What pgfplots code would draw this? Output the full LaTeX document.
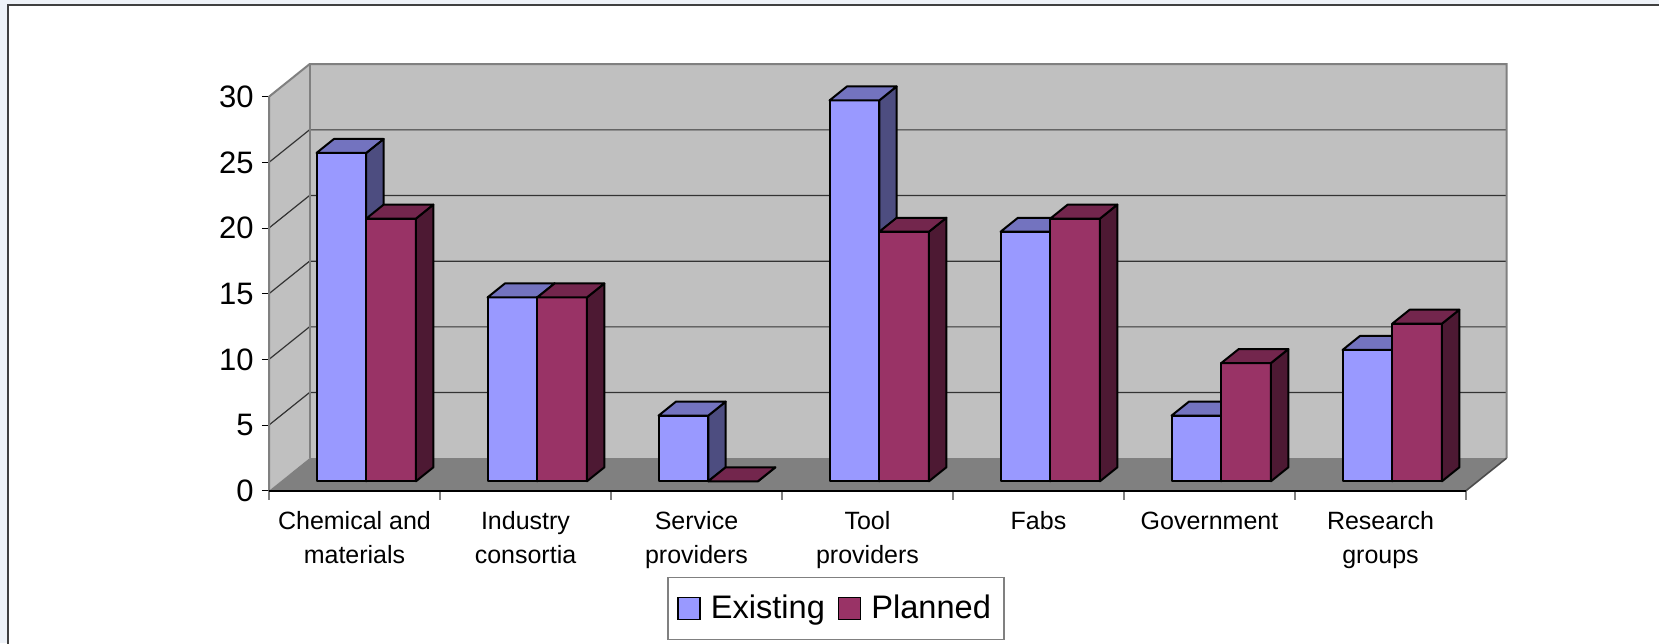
\documentclass[border=0pt]{standalone}
\usepackage{fontspec}
\setmainfont{Liberation Sans}
\usepackage{pgfplots}
\pgfplotsset{compat=1.18}
\definecolor{exFront}{HTML}{9999FF}
\definecolor{exTop}{HTML}{7373BF}
\definecolor{exSide}{HTML}{4D4D80}
\definecolor{plFront}{HTML}{993366}
\definecolor{plTop}{HTML}{73264D}
\definecolor{plSide}{HTML}{4D1933}
\definecolor{wall}{HTML}{C0C0C0}
\definecolor{floorc}{HTML}{808080}
\definecolor{edge}{HTML}{808080}
\definecolor{bg}{HTML}{EEF2F8}
% cuboid: #1 x0, #2 x1, #3 value, #4 front, #5 side, #6 top
\newcommand\cuboid[6]{%
  \addplot3[forget plot, fill=#4, draw=black, line width=1pt, line join=round]
    coordinates {(#1,0.29,0) (#2,0.29,0) (#2,0.29,#3) (#1,0.29,#3)} -- cycle;
  \addplot3[forget plot, fill=#5, draw=black, line width=1pt, line join=round]
    coordinates {(#2,0.29,0) (#2,0.72,0) (#2,0.72,#3) (#2,0.29,#3)} -- cycle;
  \addplot3[forget plot, fill=#6, draw=black, line width=1pt, line join=round]
    coordinates {(#1,0.29,#3) (#2,0.29,#3) (#2,0.72,#3) (#1,0.72,#3)} -- cycle;
}
\begin{document}
\begin{tikzpicture}
\path[use as bounding box, fill=bg] (-134.5pt,-76.15pt) rectangle (695pt,245.35pt);
\fill[white] (-130.4pt,-90pt) rectangle (710pt,242.85pt);
\draw[black!75, line width=1pt] (-130.4pt,-90pt) -- (-130.4pt,242.85pt) -- (710pt,242.85pt);
\begin{axis}[
  at={(0pt,0pt)}, anchor=origin,
  x=85.5pt, y=6.5667pt,
  xmin=0, xmax=7, ymin=0, ymax=30,
  axis lines*=left, axis line style={draw=none},
  clip=false,
  ytick={0,5,...,30},
  tick align=outside, major tick length=3.5pt,
  ytick style={black, line width=0.5pt},
  yticklabel style={font=\fontsize{15.5}{18}\selectfont, inner sep=0pt, xshift=-4pt},
  xtick={0.5,1.5,...,6.5},
  xticklabels={{Chemical and\\materials},{Industry\\consortia},{Service\\providers},{Tool\\providers},{Fabs},{Government},{Research\\groups}},
  xtick style={draw=none},
  xticklabel style={font=\fontsize{12.5}{16.65}\selectfont, align=center, inner sep=0pt, anchor=north, yshift=-6.8pt},
  /pgf/number format/assume math mode=true,
  legend columns=2,
  legend style={at={(0.4737,-0.2990)}, anchor=center, draw=edge, line width=0.6pt,
    font=\fontsize{16.3}{19}\selectfont, inner xsep=4.5pt, inner ysep=6.75pt,
    /tikz/every even column/.append style={column sep=4.3pt}},
  legend image code/.code={\draw[#1] (0pt,-5.5pt) rectangle (11pt,5.5pt); \path[draw=none, fill=none] (11pt,0pt) -- (14.5pt,0pt);},
]
\pgfplotsinvokeforeach{0,...,7}{\addplot[forget plot, edge, line width=0.6pt] coordinates {(#1,0) (#1,-0.69)};}
\addlegendimage{fill=exFront, draw=black, line width=0.8pt}
\addlegendentry{Existing}
\addlegendimage{fill=plFront, draw=black, line width=0.8pt}
\addlegendentry{Planned}
\end{axis}
\begin{axis}[
  at={(0pt,0pt)}, anchor=origin,
  x={(85.5pt,0pt)}, y={(20.25pt,16.25pt)}, z={(0pt,6.5667pt)},
  xmin=0, xmax=7, ymin=0, ymax=1, zmin=0, zmax=30,
  hide axis, clip=false,
]
\addplot3[forget plot, fill=wall, draw=none] coordinates {(0,0,0) (0,1,0) (0,1,30) (0,0,30)} -- cycle;
\addplot3[forget plot, fill=wall, draw=none] coordinates {(0,1,0) (7,1,0) (7,1,30) (0,1,30)} -- cycle;
\addplot3[forget plot, fill=floorc, draw=none] coordinates {(0,0,0) (7,0,0) (7,1,0) (0,1,0)} -- cycle;
\pgfplotsinvokeforeach{5,10,15,20,25}{\addplot3[forget plot, black!80, line width=0.6pt] coordinates {(0,0,#1) (0,1,#1) (7,1,#1)};}
\addplot3[forget plot, edge, line width=1pt] coordinates {(0,0,0) (0,0,30) (0,1,30) (7,1,30) (7,1,0)};
\addplot3[forget plot, edge, line width=1pt] coordinates {(0,1,0) (0,1,30)};
\addplot3[forget plot, black!70, line width=0.8pt] coordinates {(7,0,0) (7,1,0)};
\addplot3[forget plot, black, line width=1pt] coordinates {(0,0,0) (7,0,0)};
% Chemical and materials
\cuboid{0.2094}{0.5}{25}{exFront}{exSide}{exTop}
\cuboid{0.5}{0.7906}{20}{plFront}{plSide}{plTop}
% Industry consortia
\cuboid{1.2094}{1.5}{14}{exFront}{exSide}{exTop}
\cuboid{1.5}{1.7906}{14}{plFront}{plSide}{plTop}
% Service providers
\cuboid{2.2094}{2.5}{5}{exFront}{exSide}{exTop}
\cuboid{2.5}{2.7906}{0}{plFront}{plSide}{plTop}
% Tool providers
\cuboid{3.2094}{3.5}{29}{exFront}{exSide}{exTop}
\cuboid{3.5}{3.7906}{19}{plFront}{plSide}{plTop}
% Fabs
\cuboid{4.2094}{4.5}{19}{exFront}{exSide}{exTop}
\cuboid{4.5}{4.7906}{20}{plFront}{plSide}{plTop}
% Government
\cuboid{5.2094}{5.5}{5}{exFront}{exSide}{exTop}
\cuboid{5.5}{5.7906}{9}{plFront}{plSide}{plTop}
% Research groups
\cuboid{6.2094}{6.5}{10}{exFront}{exSide}{exTop}
\cuboid{6.5}{6.7906}{12}{plFront}{plSide}{plTop}
\end{axis}
\end{tikzpicture}
\end{document}
